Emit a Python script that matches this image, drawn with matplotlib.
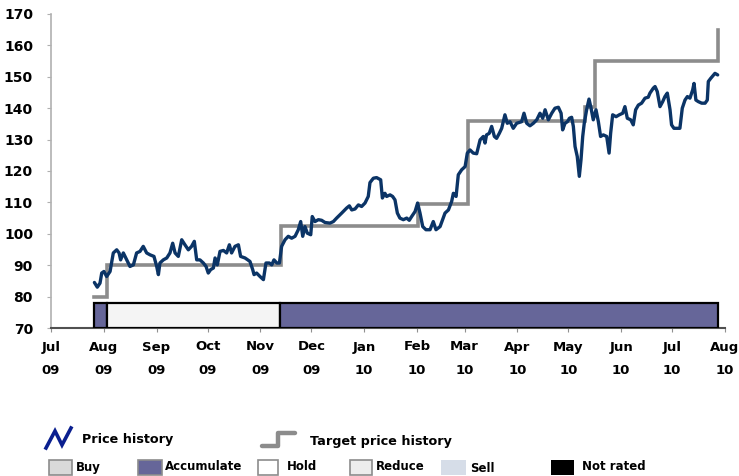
import matplotlib
matplotlib.use("Agg")
import matplotlib.pyplot as plt
import matplotlib.dates as mdates
from matplotlib.lines import Line2D
from matplotlib.patches import Rectangle
import pandas as pd
import numpy as np

plt.rcParams['font.family'] = ['DejaVu Sans']

START = pd.Timestamp('2009-07-01')

# ---- data (days since 2009-07-01, value) ----
price_days = [25.5, 27.2, 28.8, 29.8, 31.1, 32.7, 34.7, 36.6, 38.6, 40.0, 40.9, 42.5, 44.5, 46.4, 48.4,
              50.3, 52.3, 54.2, 56.2, 58.2, 60.5, 62.1, 63.1, 64.0, 66.0, 68.0, 69.9, 71.5, 72.9, 74.8,
              76.8, 78.7, 80.7, 82.6, 84.2, 85.6, 87.5, 89.5, 91.1, 92.4, 93.8, 95.4, 96.4, 97.7, 99.3,
              101.3, 103.2, 104.8, 106.1, 108.1, 110.1, 111.4, 114.0, 116.9, 118.5, 119.3, 120.8, 122.8,
              124.8, 126.3, 128.3, 129.7, 131.0, 132.7, 134.2, 135.5, 137.5, 139.4, 141.4, 143.4, 145.3,
              146.7, 147.9, 149.2, 150.6, 152.6, 153.5, 155.1, 157.1, 159.0, 161.0, 163.9, 165.9, 167.8,
              170.8, 173.7, 175.3, 176.7, 178.6, 180.6, 182.5, 184.5, 186.4, 187.4,
              189.4, 191.3, 193.7, 194.7, 196.2, 197.2, 199.2, 200.7, 202.1, 203.5, 205.0, 207.0, 209.0,
              210.5, 211.9, 213.9, 215.4, 216.8, 218.4, 220.3, 222.7, 224.6, 226.2, 228.6, 230.1, 231.5,
              233.5, 235.4, 236.4, 238.0, 239.3, 241.3, 243.3, 244.6, 246.2, 248.1, 250.1, 252.1, 254.0,
              255.0, 255.9, 257.5, 258.9, 260.5, 261.8, 263.4, 264.8, 266.7, 268.1, 269.7, 271.6, 273.6,
              276.5, 277.9, 279.5, 281.4, 283.4, 285.4, 287.3, 288.9, 290.3, 292.2, 294.2, 296.1, 298.1,
              299.7, 300.6, 302.0, 303.4, 304.6, 305.9, 306.9, 307.9, 309.2, 310.4, 311.4, 312.4, 313.3,
              314.7, 316.1, 317.3, 318.6, 320.2, 321.6, 322.9, 324.5, 326.5, 327.9, 328.8, 330.0, 332.0,
              333.9, 335.9, 337.2, 338.6, 340.6, 342.1, 343.5, 345.1, 347.0, 349.0, 350.9, 351.9, 353.9,
              354.9, 356.2, 357.8, 359.4, 360.7, 362.1, 363.7, 364.6, 366.0, 368.0, 369.5, 370.9, 372.5,
              373.9, 375.4, 377.0, 377.8, 378.9, 380.3, 382.3, 384.3, 385.6, 386.2, 387.6, 390.1, 391.7]
price_values = [84.5, 83.0, 84.3, 87.5, 88.0, 86.4, 88.0, 93.9, 94.9, 93.9, 91.7, 93.9, 91.7, 89.6, 90.1,
                93.9, 94.4, 96.0, 93.9, 93.3, 92.8, 89.6, 87.0, 90.7, 91.7, 92.3, 93.9, 97.0, 93.9, 92.8,
                98.1, 96.5, 94.9, 96.0, 97.6, 91.7, 91.7, 90.7, 89.6, 87.5, 88.6, 89.1, 92.3, 90.1, 94.4,
                94.7, 93.9, 96.5, 93.9, 96.0, 96.5, 92.8, 92.3, 91.2, 88.6, 87.0, 87.5, 86.4,
                85.4, 90.7, 90.7, 90.1, 91.7, 90.7, 90.7, 96.0, 98.1, 99.2, 98.6, 99.2, 101.3,
                103.9, 99.2, 102.3, 100.2, 99.7, 105.5, 103.9, 104.5, 104.3, 103.6, 103.4, 103.9, 105.0,
                106.6, 108.2, 108.9, 107.6, 107.9, 109.2, 108.7, 109.8, 111.9, 116.3,
                117.7, 117.9, 117.2, 111.4, 112.9, 111.9, 112.4, 111.9, 110.8, 106.6, 105.0, 104.5, 105.0,
                104.3, 105.5, 107.1, 109.8, 106.6, 102.3, 101.3, 101.3, 103.9, 101.3, 102.3, 104.5, 106.6,
                107.6, 110.3, 112.9, 111.9, 118.8, 120.4, 121.4, 125.7, 126.7, 125.7, 125.5, 129.9, 131.0,
                128.9, 131.5, 132.0, 134.2, 131.0, 130.4, 132.0, 133.6, 137.9, 135.2, 135.7, 133.6, 135.2,
                135.7, 138.4, 135.2, 134.4, 135.2, 136.3, 138.4, 136.8, 139.5, 136.3, 138.4, 140.0, 140.3,
                138.4, 133.1, 135.2, 135.7, 136.8, 137.1, 134.2, 127.8, 124.6, 118.3, 123.6, 131.0, 135.2,
                139.5, 142.9, 140.0, 136.3, 139.5, 135.7, 131.0, 131.5, 131.0, 125.7, 132.0, 137.9, 137.3,
                137.9, 138.4, 140.5, 136.8, 136.3, 134.7, 139.5, 141.0, 141.6, 143.2, 143.5, 144.8, 146.4,
                146.9, 145.3, 140.5, 142.1, 143.7, 144.8, 139.5, 134.7, 133.6, 133.6, 133.6, 140.0, 142.6,
                143.7, 143.2, 145.8, 147.9, 142.6, 142.1, 141.6, 141.6, 142.6, 148.5, 149.5, 151.1, 150.6]

target_days = [25.5, 32.7, 135.1, 215.8, 244.8, 313.7, 319.6, 391.7]
target_values = [80, 90, 102.5, 109.5, 136, 140.5, 155, 165]

rating_starts = [25.5, 32.7, 134.5]
rating_ends = [32.7, 134.5, 391.6]
rating_names = ['Accumulate', 'Hold', 'Accumulate']

month_ticks = ['2009-07-01', '2009-08-01', '2009-09-01', '2009-10-01', '2009-11-01', '2009-12-01',
               '2010-01-01', '2010-02-01', '2010-03-01', '2010-04-01', '2010-05-01', '2010-06-01',
               '2010-07-01', '2010-08-01']
month_labels = ['Jul\n09', 'Aug\n09', 'Sep\n09', 'Oct\n09', 'Nov\n09', 'Dec\n09', 'Jan\n10',
                'Feb\n10', 'Mar\n10', 'Apr\n10', 'May\n10', 'Jun\n10', 'Jul\n10', 'Aug\n10']
y_ticks = [70, 80, 90, 100, 110, 120, 130, 140, 150, 160, 170]

rating_colors = {'Accumulate': '#666699', 'Hold': '#f4f4f4'}

# ---- figure ----
W, H = 739, 476
fig = plt.figure(figsize=(W / 100, H / 100), dpi=100)
ax = fig.add_axes([51 / W, 1 - 328 / H, (725 - 51) / W, (328 - 14) / H])

def to_dates(days):
    return START + pd.to_timedelta(np.asarray(days, dtype=float), unit='D')

pdates = to_dates(price_days)
tdates = to_dates(target_days)

# rating bars
for s, e, name in zip(rating_starts, rating_ends, rating_names):
    sd = mdates.date2num(to_dates([s])[0])
    ed = mdates.date2num(to_dates([e])[0])
    ax.add_patch(Rectangle((sd, 70), ed - sd, 8, facecolor=rating_colors[name],
                           edgecolor='black', linewidth=1.6, zorder=3))

ax.plot(tdates, target_values, drawstyle='steps-post', color='#8c8c8c', linewidth=2.6,
        solid_joinstyle='miter', zorder=4)
ax.plot(pdates, price_values, color='#0b3466', linewidth=2.4, solid_joinstyle='round',
        solid_capstyle='round', zorder=5)

ax.set_xlim(mdates.date2num(pd.Timestamp('2009-07-01')), mdates.date2num(pd.Timestamp('2010-08-01')))
ax.set_ylim(70, 170)
ax.set_yticks(y_ticks)
ax.set_yticklabels([str(v) for v in y_ticks], fontweight='bold', fontsize=10)
ax.set_xticks([mdates.date2num(pd.Timestamp(d)) for d in month_ticks])
ax.set_xticklabels(month_labels, fontweight='bold', fontsize=9.5, linespacing=2.1)

for sp in ['top', 'right']:
    ax.spines[sp].set_visible(False)
ax.spines['left'].set_color('#b0b0b0')
ax.spines['left'].set_linewidth(1.2)
ax.spines['bottom'].set_color('#505050')
ax.spines['bottom'].set_linewidth(1.5)
ax.tick_params(axis='y', length=3, color='#b0b0b0', pad=10)
ax.tick_params(axis='x', length=3, color='#909090', pad=6)

# ---- legend (figure pixel coordinates) ----
def fx(x):
    return x / W

def fy(y):
    return 1 - y / H

fig.add_artist(Line2D([fx(46), fx(55), fx(62), fx(71)], [fy(448), fy(431), fy(445), fy(428)],
                      color='#0a1f8f', linewidth=2.6, solid_joinstyle='miter'))
fig.text(fx(82), fy(439), 'Price history', fontsize=9.2, fontweight='bold', va='center', ha='left')
fig.add_artist(Line2D([fx(262), fx(278), fx(278), fx(295)], [fy(446), fy(446), fy(433), fy(433)],
                      color='#8c8c8c', linewidth=3.2, solid_joinstyle='round', solid_capstyle='round'))
fig.text(fx(310), fy(441), 'Target price history', fontsize=9.2, fontweight='bold', va='center', ha='left')

legend_boxes = [
    (48.5, 71.5, '#d9d9d9', '#8c8c8c', 'Buy', 75.5, 467),
    (138, 161.5, '#666699', '#8c8c8c', 'Accumulate', 165, 467),
    (258, 278, '#ffffff', '#8c8c8c', 'Hold', 286.5, 467),
    (350, 372, '#ededed', '#8c8c8c', 'Reduce', 375.5, 467),
    (441, 465.5, '#d6dde8', 'none', 'Sell', 470, 469),
    (551, 574, '#000000', 'none', 'Not rated', 582, 467),
]
for x0, x1, fc, ec, lab, tx, ty in legend_boxes:
    fig.add_artist(Rectangle((fx(x0), fy(475)), fx(x1) - fx(x0), (460 - 475) / -H,
                             facecolor=fc, edgecolor=ec, linewidth=1.2,
                             transform=fig.transFigure))
    fig.text(fx(tx), fy(ty), lab, fontsize=8.5, fontweight='bold', va='center', ha='left')

fig.savefig('out.png', dpi=100)
